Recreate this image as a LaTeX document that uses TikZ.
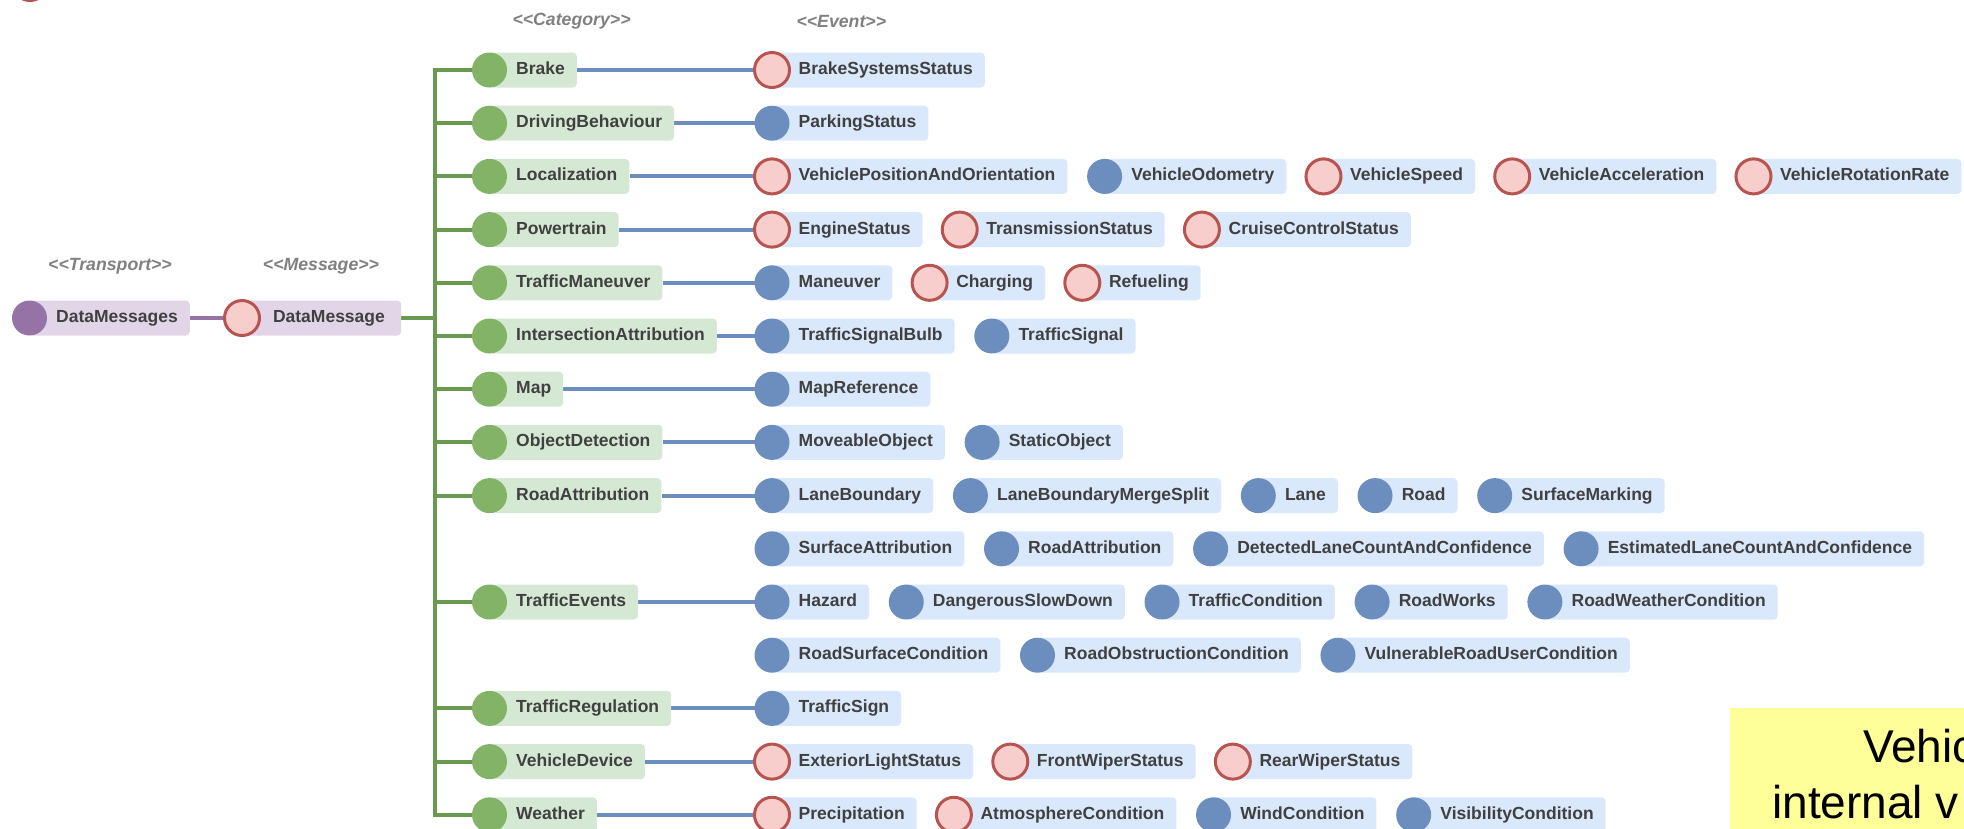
\documentclass[tikz,border=0pt]{standalone}
\usepackage{fontspec}
\setmainfont{Liberation Sans}
\usetikzlibrary{positioning, backgrounds}

\definecolor{txt}{HTML}{404040}
\definecolor{stereo}{HTML}{808080}
\definecolor{grnfill}{HTML}{D5E8D4}
\definecolor{grndot}{HTML}{82B366}
\definecolor{grnline}{HTML}{6A9A4F}
\definecolor{blufill}{HTML}{DAE8FC}
\definecolor{bludot}{HTML}{6C8EBF}
\definecolor{redfill}{HTML}{F8CECC}
\definecolor{redline}{HTML}{B85450}
\definecolor{purfill}{HTML}{E1D5E7}
\definecolor{purdot}{HTML}{9673A6}
\definecolor{note}{HTML}{FFFF99}

\begin{document}
\begin{tikzpicture}[x=1pt, y=-1pt,
  pill/.style={fill=#1, rounded corners=4pt, minimum height=35pt, inner ysep=0pt, inner xsep=12pt,
    anchor=west, text=txt, font=\fontsize{17.5pt}{20pt}\selectfont\bfseries,
    text height=12.5pt, text depth=3.5pt, execute at begin node=\hspace*{14.5pt}},
  dot/.style={circle, minimum size=35pt, inner sep=0pt, fill=#1},
  ring/.style={circle, minimum size=35pt, inner sep=0pt, fill=redfill, draw=redline, line width=3pt},
  cat/.style={pill=grnfill, append after command={node[dot=grndot] at (\tikzlastnode.west) {}}},
  ev/.style={pill=blufill, append after command={node[dot=bludot] at (\tikzlastnode.west) {}}},
  evr/.style={pill=blufill, append after command={node[ring] at (\tikzlastnode.west) {}}},
  tr/.style={pill=purfill, append after command={node[dot=purdot] at (\tikzlastnode.west) {}}},
  msg/.style={pill=purfill, append after command={node[ring] at (\tikzlastnode.west) {}}},
  stype/.style={text=stereo, font=\fontsize{17.7pt}{20pt}\selectfont\bfseries\itshape},
  trunk/.style={grnline, line width=4pt, line cap=rect},
  link/.style={bludot, line width=4pt},
  node distance=37pt]
\useasboundingbox (0,0) rectangle (1964,828);

% legend remainder and note
\node[ring] (legend) at (30,-17) {};
\fill[note] (1730,708) rectangle (1990,850);
\node[anchor=base west, inner sep=0pt, font=\fontsize{46pt}{56pt}\selectfont] (noteA) at (1863,762) {Vehic};
\node[anchor=base west, inner sep=0pt, font=\fontsize{46pt}{56pt}\selectfont] (noteB) at (1772,818) {internal v};

% stereotypes
\node[stype] (stTr) at (110,266) {<\kern0pt<Transport>\kern0pt>};
\node[stype] (stMsg) at (321,266) {<\kern0pt<Message>\kern0pt>};
\node[stype, anchor=west] (stCat) at (509,21) {<\kern0pt<Category>\kern0pt>};
\node[stype, anchor=west] (stEv) at (793,21) {<\kern0pt<Event>\kern0pt>};

% transport and message
\node[tr] (dms) at (29.5,318) {DataMessages};
\node[msg, minimum width=159pt] (dmsg) at (242,318) {DataMessage};

% categories
\node[cat] (brake) at (489.5,70) {Brake};
\node[cat] (drv) at (489.5,123.2) {DrivingBehaviour};
\node[cat] (loc) at (489.5,176.4) {Localization};
\node[cat] (pwr) at (489.5,229.6) {Powertrain};
\node[cat] (tman) at (489.5,282.8) {TrafficManeuver};
\node[cat] (isec) at (489.5,336) {IntersectionAttribution};
\node[cat] (map) at (489.5,389.2) {Map};
\node[cat] (objd) at (489.5,442.4) {ObjectDetection};
\node[cat] (road) at (489.5,495.6) {RoadAttribution};
\node[cat] (tev) at (489.5,602) {TrafficEvents};
\node[cat] (treg) at (489.5,708.4) {TrafficRegulation};
\node[cat] (vdev) at (489.5,761.6) {VehicleDevice};
\node[cat] (wthr) at (489.5,814.8) {Weather};

% events
\node[evr] (bss) at (772,70) {BrakeSystemsStatus};
\node[ev] (park) at (772,123.2) {ParkingStatus};
\node[evr] (vpo) at (772,176.4) {VehiclePositionAndOrientation};
\node[ev, right=of vpo] (vodo) {VehicleOdometry};
\node[evr, right=of vodo] (vspd) {VehicleSpeed};
\node[evr, right=of vspd] (vacc) {VehicleAcceleration};
\node[evr, right=of vacc] (vrot) {VehicleRotationRate};
\node[evr] (eng) at (772,229.6) {EngineStatus};
\node[evr, right=of eng] (trans) {TransmissionStatus};
\node[evr, right=of trans] (cruise) {CruiseControlStatus};
\node[ev] (man) at (772,282.8) {Maneuver};
\node[evr, right=of man] (chg) {Charging};
\node[evr, right=of chg] (fuel) {Refueling};
\node[ev] (bulb) at (772,336) {TrafficSignalBulb};
\node[ev, right=of bulb] (tsig) {TrafficSignal};
\node[ev] (mref) at (772,389.2) {MapReference};
\node[ev] (mobj) at (772,442.4) {MoveableObject};
\node[ev, right=of mobj] (sobj) {StaticObject};
\node[ev] (lb) at (772,495.6) {LaneBoundary};
\node[ev, right=of lb] (lbms) {LaneBoundaryMergeSplit};
\node[ev, right=of lbms] (lane) {Lane};
\node[ev, right=of lane] (rd) {Road};
\node[ev, right=of rd] (smark) {SurfaceMarking};
\node[ev] (sattr) at (772,548.8) {SurfaceAttribution};
\node[ev, right=of sattr] (rattr) {RoadAttribution};
\node[ev, right=of rattr] (dlc) {DetectedLaneCountAndConfidence};
\node[ev, right=of dlc] (elc) {EstimatedLaneCountAndConfidence};
\node[ev] (haz) at (772,602) {Hazard};
\node[ev, right=of haz] (dsd) {DangerousSlowDown};
\node[ev, right=of dsd] (tcond) {TrafficCondition};
\node[ev, right=of tcond] (rworks) {RoadWorks};
\node[ev, right=of rworks] (rwc) {RoadWeatherCondition};
\node[ev] (rsc) at (772,655.2) {RoadSurfaceCondition};
\node[ev, right=of rsc] (roc) {RoadObstructionCondition};
\node[ev, right=of roc] (vruc) {VulnerableRoadUserCondition};
\node[ev] (tsign) at (772,708.4) {TrafficSign};
\node[evr] (els) at (772,761.6) {ExteriorLightStatus};
\node[evr, right=of els] (fws) {FrontWiperStatus};
\node[evr, right=of fws] (rws) {RearWiperStatus};
\node[evr] (prec) at (772,814.8) {Precipitation};
\node[evr, right=of prec] (atm) {AtmosphereCondition};
\node[ev, right=of atm] (wind) {WindCondition};
\node[ev, right=of wind] (vis) {VisibilityCondition};

% connectors
\begin{scope}[on background layer]
\draw[purdot, line width=4pt] (dms.east) -- (dmsg.west);
\coordinate (trtop) at (435,70);
\coordinate (trbot) at (435,814.8);
\draw[trunk] (trtop) -- (trbot);
\draw[trunk] (dmsg.east) -- (trtop |- dmsg.east);
\foreach \c in {brake,drv,loc,pwr,tman,isec,map,objd,road,tev,treg,vdev,wthr}
  \draw[trunk] (trtop |- \c.west) -- (\c.west);
\draw[link] (brake.east) -- (bss.west);
\draw[link] (drv.east) -- (park.west);
\draw[link] (loc.east) -- (vpo.west);
\draw[link] (pwr.east) -- (eng.west);
\draw[link] (tman.east) -- (man.west);
\draw[link] (isec.east) -- (bulb.west);
\draw[link] (map.east) -- (mref.west);
\draw[link] (objd.east) -- (mobj.west);
\draw[link] (road.east) -- (lb.west);
\draw[link] (tev.east) -- (haz.west);
\draw[link] (treg.east) -- (tsign.west);
\draw[link] (vdev.east) -- (els.west);
\draw[link] (wthr.east) -- (prec.west);
\end{scope}
\end{tikzpicture}
\end{document}
